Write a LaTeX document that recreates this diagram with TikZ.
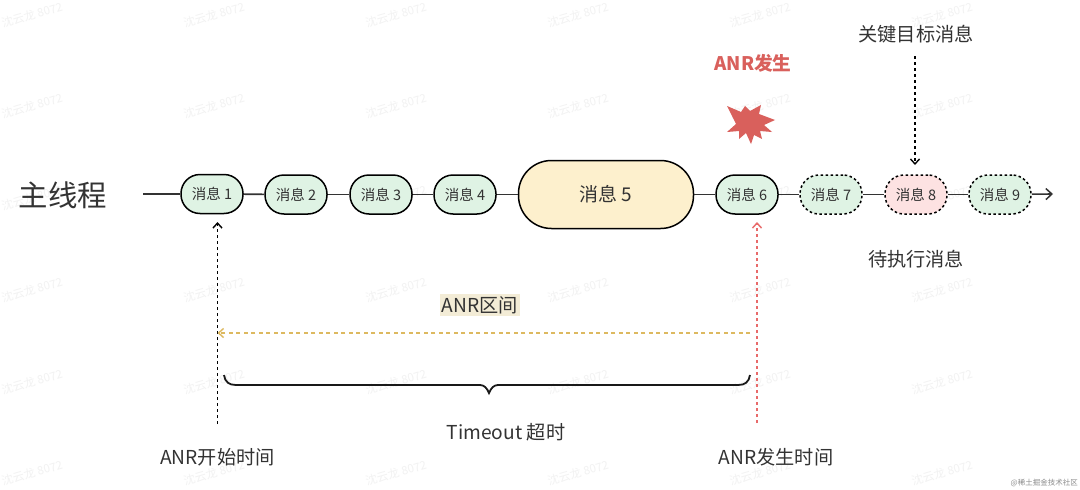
\documentclass[tikz,border=0pt]{standalone}
\usepackage{fontspec}
\setmainfont{Noto Sans CJK SC}
\usetikzlibrary{arrows.meta}
\definecolor{ink}{HTML}{333333}
\definecolor{mintfill}{HTML}{DFF3E4}
\definecolor{creamfill}{HTML}{FDF0CD}
\definecolor{pinkfill}{HTML}{FDE2E2}
\definecolor{redc}{HTML}{D9605C}
\definecolor{redline}{HTML}{E86A6A}
\definecolor{goldline}{HTML}{DDB960}
\definecolor{labelbg}{HTML}{F3ECD6}
\definecolor{wm}{HTML}{F2F2F2}
\newcommand{\lowtext}[1]{\raisebox{-1pt}{#1}}
\tikzset{
  x=1pt,y=-1pt,
  msg/.style={draw=black,line width=1.5pt,rounded corners=19pt,minimum width=62pt,minimum height=39pt,fill=mintfill,text=ink,font=\fontsize{14.5}{16}\selectfont,inner sep=0pt},
  pend/.style={msg,dash pattern=on 2.5pt off 2.5pt},
  bigmsg/.style={msg,fill=creamfill,minimum width=175pt,minimum height=68pt,rounded corners=33pt,font=\fontsize{19}{20}\selectfont},
  lbl/.style={text=ink,font=\fontsize{19.2}{22}\selectfont,inner sep=0pt},
  wline/.style={line width=1.6pt,draw=ink},
  ptr/.style={line width=1.6pt,dash pattern=on 3pt off 3pt,-{Straight Barb[length=5pt,width=9pt,line width=1.4pt]}},
  wmark/.style={text=wm,rotate=16,font=\fontsize{11.5}{13}\selectfont,inner sep=0pt}
}
\begin{document}
\begin{tikzpicture}
\useasboundingbox (0,0) rectangle (1080,490);
\fill[white] (0,0) rectangle (1080,490);
% watermarks
\foreach \wy in {15,106,198,290,382,473}
  \foreach \wx in {32,214,396,578,760,942}
    \node[wmark] at (\wx,\wy) {沈云龙 8072};
\node[text=black!45,font=\fontsize{7.5}{9}\selectfont,inner sep=0pt,anchor=east] (brand) at (1078,483) {@稀土掘金技术社区};
% main thread
\coordinate (ls) at (143,194);
\coordinate (le) at (1053,194);
\node[msg] (m1) at (212,194) {\lowtext{消息 1}};
\node[msg] (m2) at (296,194.5) {\lowtext{消息 2}};
\node[msg] (m3) at (381,194.5) {\lowtext{消息 3}};
\node[msg] (m4) at (465,194.5) {\lowtext{消息 4}};
\node[bigmsg] (m5) at (606,194.5) {\lowtext{消息 5}};
\node[msg] (m6) at (747,194.5) {\lowtext{消息 6}};
\node[pend] (m7) at (831,194.5) {\lowtext{消息 7}};
\node[pend,fill=pinkfill] (m8) at (916,194.5) {\lowtext{消息 8}};
\node[pend] (m9) at (1000,194.5) {\lowtext{消息 9}};
\draw[wline] (ls) -- (m1);
\draw[wline] (m1) -- (m2);
\draw[wline] (m2) -- (m3);
\draw[wline] (m3) -- (m4);
\draw[wline] (m4) -- (m5);
\draw[wline] (m5) -- (m6);
\draw[wline] (m6) -- (m7);
\draw[wline] (m7) -- (m8);
\draw[wline] (m8) -- (m9);
\draw[wline,-{Straight Barb[length=6pt,width=11pt,line width=1.5pt]}] (m9) -- (le);
% labels
\node[lbl,font=\fontsize{29.4}{34}\selectfont] (main) at (63,195) {主线程};
\node[lbl,font=\bfseries\fontsize{18.7}{22}\selectfont,text=redc] (anr) at (753,63) {ANR发生};
\node[lbl] (key) at (916,34) {关键目标消息};
\node[lbl] (wait) at (916,259) {待执行消息};
\node[lbl,fill=labelbg,inner sep=2pt] (range) at (480,305) {ANR区间};
\node[lbl] (tout) at (506,432) {Timeout 超时};
\node[lbl] (astart) at (217.5,457) {ANR开始时间};
\node[lbl] (ahappen) at (776,457) {ANR发生时间};
% burst
\fill[redc] (727,106) -- (741,112) -- (745,106) -- (750,111) -- (761,105) -- (759,114) -- (775,120)
  -- (764,125) -- (772,132) -- (760,131) -- (762,139) -- (754,135) -- (751,144) -- (746,133) -- (739,139) -- (739,131) -- (727,132) -- (736,124) -- cycle;
% pointers
\coordinate (s1) at (217.5,424);
\coordinate (e1) at (217.5,222);
\coordinate (s6) at (757,423);
\coordinate (e6) at (757,222);
\coordinate (s8) at (915,56);
\coordinate (e8) at (915,165);
\coordinate (gs) at (750,333);
\coordinate (ge) at (217.5,333);
\draw[ptr,draw=black] (s1) -- (e1);
\draw[ptr,draw=redline] (s6) -- (e6);
\draw[ptr,draw=black] (s8) -- (e8);
\draw[ptr,draw=goldline,line width=1.3pt,dash pattern=on 4pt off 3.5pt] (gs) -- (ge);
% brace
\coordinate (bl) at (224,375);
\coordinate (br) at (750,375);
\coordinate (bt) at (489,393);
\draw[line width=1.8pt,draw=black!90] (bl) .. controls (225,382) and (229,385) .. (236,385)
  -- (480,385) .. controls (484,385) and (487,388) .. (bt) .. controls (491,388) and (494,385) .. (498,385)
  -- (738,385) .. controls (745,385) and (749,382) .. (br);
\end{tikzpicture}
\end{document}
